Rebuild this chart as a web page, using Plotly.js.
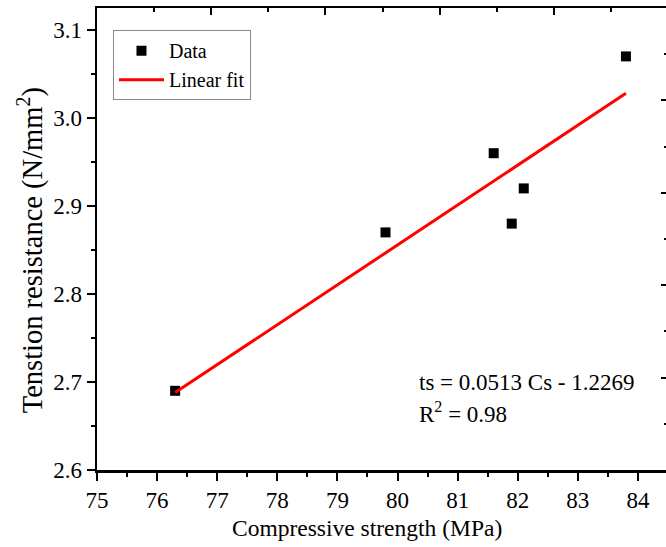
<!DOCTYPE html>
<html>
<head>
<meta charset="utf-8">
<script src="https://cdn.plot.ly/plotly-3.0.1.min.js"></script>
<style>
html,body{margin:0;padding:0;overflow:hidden;background:#fff;width:666px;height:547px;}
#chart{width:672px;height:547px;}
</style>
</head>
<body>
<div id="chart"></div>
<script>
// Data
const compStrength = [76.3, 79.8, 81.6, 81.9, 82.1, 83.8];
const tensionRes   = [2.69, 2.87, 2.96, 2.88, 2.92, 3.07];
// Linear fit line endpoints as drawn
const fitX = [76.3, 83.8];
const fitY = [2.688, 3.028];
const eqText = 'ts = 0.0513 Cs - 1.2269';
const r2Text = 'R<sup>2</sup> = 0.98';
const xTitle = 'Compressive strength (MPa)';
const yTitle = 'Tenstion resistance (N/mm<sup>2</sup>)';

const font = 'Liberation Serif';

const traces = [
  {x: compStrength, y: tensionRes, type: 'scatter', mode: 'markers', name: 'Data',
   marker: {symbol: 'square', size: 10, color: '#000'}},
  {x: fitX, y: fitY, type: 'scatter', mode: 'lines', name: 'Linear fit',
   line: {color: '#ff0000', width: 3}},
  {x: [], y: [], xaxis: 'x2', yaxis: 'y2', type: 'scatter', mode: 'markers', showlegend: false, hoverinfo: 'skip'}
];

const layout = {
  width: 672, height: 547,
  margin: {l: 97, r: 4, t: 8, b: 77},
  paper_bgcolor: '#fff', plot_bgcolor: '#fff',
  font: {family: font, size: 22, color: '#000'},
  showlegend: true,
  legend: {x: 0.028, y: 0.952, xanchor: 'left', yanchor: 'top', itemwidth: 45,
           bordercolor: '#888', borderwidth: 1, bgcolor: '#fff',
           font: {family: font, size: 20, color: '#000'}},
  xaxis: {range: [75, 84.5], dtick: 1, tick0: 75, showgrid: false, zeroline: false,
          showline: true, linecolor: '#000', linewidth: 2.5,
          ticks: 'outside', ticklen: 8, tickwidth: 2, tickcolor: '#000',
          minor: {dtick: 0.5, ticks: 'outside', ticklen: 4, tickwidth: 2, tickcolor: '#000', showgrid: false},
          tickfont: {family: font, size: 23},
          automargin: false},
  yaxis: {range: [2.6, 3.125], dtick: 0.1, tick0: 2.6, tickformat: '.1f', showgrid: false, zeroline: false,
          showline: true, linecolor: '#000', linewidth: 2.5,
          ticks: 'outside', ticklen: 8, tickwidth: 2, tickcolor: '#000',
          minor: {dtick: 0.05, ticks: 'outside', ticklen: 4, tickwidth: 2, tickcolor: '#000', showgrid: false},
          tickfont: {family: font, size: 23},
          automargin: false},
  xaxis2: {overlaying: 'x', side: 'top', range: [0, 10], dtick: 2, tick0: 0, showgrid: false, zeroline: false,
           showline: true, linecolor: '#000', linewidth: 2.5, showticklabels: false,
           ticks: 'inside', ticklen: 7, tickwidth: 2, tickcolor: '#000',
           minor: {dtick: 1, ticks: 'inside', ticklen: 4, tickwidth: 2, tickcolor: '#000', showgrid: false}},
  yaxis2: {overlaying: 'y', side: 'right', range: [0, 10], dtick: 2, tick0: 0, showgrid: false, zeroline: false,
           showline: true, linecolor: '#bbb', linewidth: 1, showticklabels: false,
           ticks: 'inside', ticklen: 7, tickwidth: 2, tickcolor: '#000',
           minor: {dtick: 1, ticks: 'inside', ticklen: 4, tickwidth: 2, tickcolor: '#000', showgrid: false}},
  annotations: [
    {x: 80.32, y: 2.699, xref: 'x', yref: 'y', text: eqText, showarrow: false, xanchor: 'left', yanchor: 'middle',
     font: {family: font, size: 23}},
    {x: 80.32, y: 2.665, xref: 'x', yref: 'y', text: r2Text, showarrow: false, xanchor: 'left', yanchor: 'middle',
     font: {family: font, size: 23}},
    {x: 0.473, y: -0.126, xref: 'paper', yref: 'paper', text: xTitle, showarrow: false,
     xanchor: 'center', yanchor: 'middle', font: {family: font, size: 23.5}},
    {x: -0.117, y: 0.476, xref: 'paper', yref: 'paper', text: yTitle, showarrow: false, textangle: -90,
     xanchor: 'center', yanchor: 'middle', font: {family: font, size: 28.5}}
  ]
};

Plotly.newPlot('chart', traces, layout, {displayModeBar: false, staticPlot: true});
</script>
</body>
</html>
